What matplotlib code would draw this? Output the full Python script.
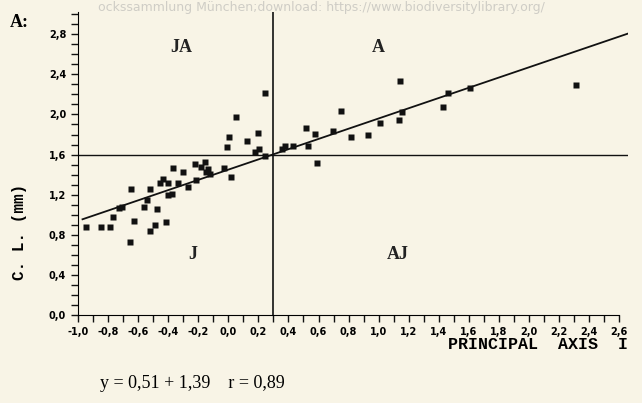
import matplotlib.pyplot as plt
from matplotlib.ticker import MultipleLocator, FuncFormatter

# Principal axis I scores against carapace length
pc1 = [-0.95, -0.85, -0.79, -0.77, -0.73, -0.71, -0.645, -0.63, -0.656, -0.564,
       -0.54, -0.52, -0.518, -0.49, -0.477, -0.454, -0.433, -0.415, -0.40, -0.40,
       -0.374, -0.367, -0.334, -0.30, -0.27, -0.225, -0.214, -0.18, -0.153, -0.149,
       -0.133, -0.12, -0.028, 0.015, -0.007, 0.004, 0.052, 0.125, 0.195, 0.18,
       0.205, 0.245, 0.243, 0.358, 0.376, 0.43, 0.52, 0.533, 0.577, 0.59,
       0.693, 0.75, 0.815, 0.929, 1.01, 1.134, 1.152, 1.141, 1.425, 1.458,
       1.607, 2.315]
cl = [0.88, 0.88, 0.88, 0.98, 1.07, 1.08, 1.26, 0.94, 0.73, 1.08,
      1.15, 1.26, 0.84, 0.90, 1.06, 1.32, 1.36, 0.93, 1.32, 1.20,
      1.21, 1.47, 1.32, 1.43, 1.28, 1.51, 1.35, 1.48, 1.53, 1.43,
      1.46, 1.41, 1.47, 1.38, 1.68, 1.78, 1.97, 1.74, 1.82, 1.63,
      1.66, 1.59, 2.21, 1.66, 1.69, 1.69, 1.86, 1.69, 1.81, 1.52,
      1.84, 2.03, 1.78, 1.80, 1.91, 1.94, 2.02, 2.33, 2.07, 2.21,
      2.26, 2.29]

slope = 0.51
intercept = 1.45
fit_x = [-0.97, 2.66]

split_x = 0.3
split_y = 1.6

quadrants = ['JA', 'A', 'J', 'AJ']
quad_x = [-0.31, 1.0, -0.24, 1.13]
quad_y = [2.67, 2.67, 0.60, 0.60]

bg = '#f8f4e6'
fig = plt.figure(figsize=(6.42, 4.03), dpi=100, facecolor=bg)
ax = fig.add_axes([0.1215, 0.218, 0.857, 0.752], facecolor=bg)

ax.set_xlim(-1.0, 2.66)
ax.set_ylim(0, 3.02)

ax.plot(pc1, cl, 's', color='#111111', ms=4, mec='none', zorder=3)
ax.plot(fit_x, [intercept + slope * x for x in fit_x], color='#111111', lw=1.3)
ax.plot([-1.0, 2.66], [split_y, split_y], color='#111111', lw=1.0)
ax.plot([split_x, split_x], [0, 3.02], color='#111111', lw=1.2)

for name, qx, qy in zip(quadrants, quad_x, quad_y):
    ax.text(qx, qy, name, ha='center', va='center', fontsize=13,
            fontweight='bold', family='Liberation Serif', color='#222222')

for side in ['top', 'right']:
    ax.spines[side].set_visible(False)
ax.spines['left'].set_bounds(0, 3.02)
ax.spines['bottom'].set_bounds(-1.0, 2.6)

comma = FuncFormatter(lambda v, p: f'{v:.1f}'.replace('.', ',').replace('-0,0', '0,0'))
ax.xaxis.set_minor_locator(MultipleLocator(0.1))
ax.yaxis.set_minor_locator(MultipleLocator(0.1))
ax.set_xticks([i / 10 for i in range(-10, 27, 2)])
ax.set_yticks([i / 10 for i in range(0, 29, 4)])
ax.xaxis.set_major_formatter(comma)
ax.yaxis.set_major_formatter(comma)
ax.tick_params(which='both', direction='out', length=5, width=1, color='#111111')
ax.tick_params(labelsize=7)
for lab in ax.get_xticklabels() + ax.get_yticklabels():
    lab.set_fontweight('bold')

ax.set_ylabel('C. L. (mm)', family='Liberation Mono', fontweight='bold',
              fontsize=11.5)
ax.yaxis.set_label_coords(-0.092, 0.275)

fig.text(0.978, 0.145, 'PRINCIPAL  AXIS  I', ha='right', va='center',
         family='Liberation Mono', fontweight='bold', fontsize=12)
fig.text(0.155, 0.048, 'y = 0,51 + 1,39    r = 0,89', ha='left', va='center',
         family='Liberation Serif', fontsize=13)
fig.text(0.015, 0.945, 'A:', ha='left', va='center',
         family='Liberation Serif', fontweight='bold', fontsize=13)
fig.text(0.5, 0.998, 'ockssammlung München;download: https://www.biodiversitylibrary.org/',
         ha='center', va='top', fontsize=9, color='#cfcdc6')

fig.savefig('out.png', dpi=100, facecolor=bg)
